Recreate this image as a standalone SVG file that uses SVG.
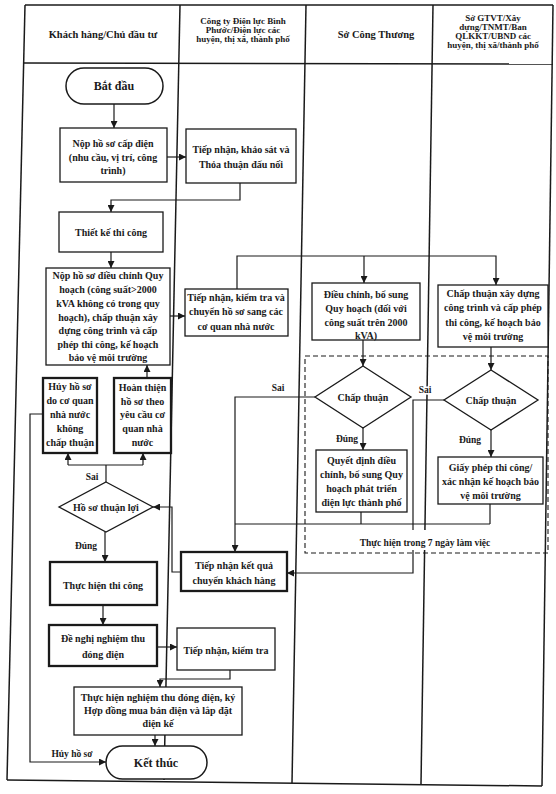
<svg xmlns="http://www.w3.org/2000/svg" width="556" height="794" viewBox="0 0 556 794">
<style>
  .tbl{fill:none;stroke:#1a1a1a;stroke-width:1.5}
  .box{fill:#fff;stroke:#1a1a1a;stroke-width:1.3}
  .thick{stroke-width:2.3}
  .term{fill:#fff;stroke:#1a1a1a;stroke-width:1.5}
  .ln{fill:none;stroke:#1a1a1a;stroke-width:1.2}
  .arr{marker-end:url(#ah)}
  .dash{fill:none;stroke:#1a1a1a;stroke-width:1.1;stroke-dasharray:5 3}
  .t{font-family:"Liberation Serif","Times New Roman",serif;font-weight:bold;font-size:10px;text-anchor:middle;fill:#1a1a1a}
  .h{font-size:9px}
  .hl{font-size:10.5px}
  .big{font-size:12px}
  .lbl{font-size:9.5px;paint-order:stroke;stroke:#fff;stroke-width:3px}
</style>
<defs>
  <marker id="ah" viewBox="0 0 10 10" refX="10" refY="5" markerWidth="7" markerHeight="7" markerUnits="userSpaceOnUse" orient="auto">
    <path d="M0,0 L10,5 L0,10 z" fill="#1a1a1a"/>
  </marker>
</defs>
<rect width="556" height="794" fill="#fff"/>

<g id="table">
  <line class="tbl" x1="25" y1="5" x2="553" y2="5"/>
  <line class="tbl" x1="24" y1="63" x2="553" y2="64"/>
  <line class="tbl" x1="25" y1="5" x2="7" y2="780"/>
  <line class="tbl" x1="180" y1="5" x2="164" y2="780"/>
  <line class="tbl" x1="306" y1="5" x2="292" y2="783"/>
  <line class="tbl" x1="433" y1="5" x2="421" y2="784"/>
  <line class="tbl" x1="553" y1="5" x2="542" y2="786"/>
  <line class="tbl" x1="7" y1="780" x2="542" y2="786"/>
  <text class="t hl" x="103" y="38">Khách hàng/Chủ đầu tư</text>
  <text class="t h" x="243" y="24">Công ty Điện lực Bình</text>
  <text class="t h" x="243" y="33">Phước/Điện lực các</text>
  <text class="t h" x="243" y="42">huyện, thị xã, thành phố</text>
  <text class="t hl" x="376" y="38">Sở Công Thương</text>
  <text class="t h" x="493" y="21">Sở GTVT/Xây</text>
  <text class="t h" x="493" y="30">dựng/TNMT/Ban</text>
  <text class="t h" x="493" y="39">QLKKT/UBND các</text>
  <text class="t h" x="493" y="48">huyện, thị xã/thành phố</text>
</g>

<g id="zone7">
  <rect class="dash" x="305" y="356" width="243" height="197"/>
</g>

<g id="connectors">
  <line class="ln arr" x1="114" y1="104" x2="114" y2="128"/>
  <line class="ln arr" x1="167" y1="157" x2="186" y2="157"/>
  <polyline class="ln arr" points="240,183 240,200 111,200 111,212"/>
  <line class="ln arr" x1="111" y1="252" x2="111" y2="268"/>
  <line class="ln arr" x1="170" y1="316" x2="185" y2="316"/>
  <polyline class="ln arr" points="237,289 237,256 496,256 496,285"/>
  <line class="ln arr" x1="364" y1="256" x2="364" y2="283"/>
  <line class="ln arr" x1="363" y1="340" x2="363" y2="366"/>
  <line class="ln arr" x1="491" y1="347" x2="491" y2="370"/>
  <line class="ln arr" x1="363" y1="428" x2="363" y2="450"/>
  <line class="ln arr" x1="491" y1="430" x2="491" y2="457"/>
  <polyline class="ln arr" points="315,397 235,397 235,552"/>
  <polyline class="ln" points="361,512 361,524"/>
  <polyline class="ln" points="490,504 490,524"/>
  <line class="ln" x1="235" y1="524" x2="490" y2="524"/>
  <polyline class="ln arr" points="444,400 413,400 413,573 287,573"/>
  <polyline class="ln arr" points="181,572 172,572 172,507 153,507"/>
  <line class="ln" x1="106" y1="482" x2="106" y2="465"/>
  <line class="ln" x1="68" y1="465" x2="143" y2="465"/>
  <line class="ln arr" x1="68" y1="465" x2="68" y2="453"/>
  <line class="ln arr" x1="143" y1="465" x2="143" y2="453"/>
  <line class="ln arr" x1="147" y1="378" x2="147" y2="365"/>
  <polyline class="ln arr" points="43,414 30,414 30,762 106,762"/>
  <line class="ln arr" x1="105" y1="532" x2="105" y2="562"/>
  <line class="ln arr" x1="103" y1="605" x2="103" y2="625"/>
  <line class="ln arr" x1="157" y1="647" x2="177" y2="647"/>
  <polyline class="ln arr" points="230,670 230,679 160,679 160,687"/>
  <line class="ln arr" x1="155" y1="735" x2="155" y2="746"/>
  <text class="t lbl" x="278" y="391">Sai</text>
  <text class="t lbl" x="425" y="393">Sai</text>
  <text class="t lbl" x="347" y="442">Đúng</text>
  <text class="t lbl" x="470" y="443">Đúng</text>
  <text class="t lbl" x="92" y="480">Sai</text>
  <text class="t lbl" x="86" y="549">Đúng</text>
  <text class="t lbl" x="72" y="757">Hủy hồ sơ</text>
</g>

<g id="zone7-label">
  <rect x="350" y="530" width="150" height="20" fill="#fff"/>
  <text class="t lbl" x="425" y="546">Thực hiện trong 7 ngày làm việc</text>
</g>

<g id="start">
  <rect class="term" x="66" y="68" width="97" height="36" rx="18"/>
  <text class="t big" x="114" y="90">Bắt đầu</text>
</g>
<g id="nop-ho-so">
  <rect class="box" x="60" y="128" width="107" height="54"/>
  <text class="t" x="113" y="146.5">Nộp hồ sơ cấp điện</text>
  <text class="t" x="113" y="160.5">(nhu cầu, vị trí, công</text>
  <text class="t" x="113" y="174">trình)</text>
</g>
<g id="tiep-nhan-khao-sat">
  <rect class="box" x="186" y="129" width="110" height="54"/>
  <text class="t" x="241" y="152.5">Tiếp nhận, khảo sát và</text>
  <text class="t" x="241" y="167.5">Thỏa thuận đấu nối</text>
</g>
<g id="thiet-ke">
  <rect class="box" x="59" y="212" width="104" height="40"/>
  <text class="t" x="111" y="236">Thiết kế thi công</text>
</g>
<g id="nop-dieu-chinh">
  <rect class="box" x="46" y="268" width="124" height="97"/>
  <text class="t" x="108" y="278.5">Nộp hồ sơ điều chỉnh Quy</text>
  <text class="t" x="108" y="292.5">hoạch (công suất&gt;2000</text>
  <text class="t" x="108" y="306.5">kVA không có trong quy</text>
  <text class="t" x="108" y="320.5">hoạch), chấp thuận xây</text>
  <text class="t" x="108" y="334">dựng công trình và cấp</text>
  <text class="t" x="108" y="347.5">phép thi công, kế hoạch</text>
  <text class="t" x="108" y="361">bảo vệ môi trường</text>
</g>
<g id="tiep-nhan-chuyen">
  <rect class="box" x="185" y="289" width="103" height="47"/>
  <text class="t" x="236" y="300.5">Tiếp nhận, kiểm tra và</text>
  <text class="t" x="236" y="315">chuyển hồ sơ sang các</text>
  <text class="t" x="236" y="329.5">cơ quan nhà nước</text>
</g>
<g id="dieu-chinh-qh">
  <rect class="box" x="312" y="283" width="108" height="57"/>
  <text class="t" x="366" y="297.5">Điều chỉnh, bổ sung</text>
  <text class="t" x="366" y="311.5">Quy hoạch (đối với</text>
  <text class="t" x="366" y="325.5">công suất trên 2000</text>
  <text class="t" x="366" y="338.5">kVA)</text>
</g>
<g id="chap-thuan-xd">
  <rect class="box" x="438" y="285" width="110" height="62"/>
  <text class="t" x="493" y="296.5">Chấp thuận xây dựng</text>
  <text class="t" x="493" y="310.5">công trình và cấp phép</text>
  <text class="t" x="493" y="325.5">thi công, kế hoạch bảo</text>
  <text class="t" x="493" y="339.5">vệ môi trường</text>
</g>
<g id="huy-ho-so">
  <rect class="box thick" x="43" y="378" width="54" height="75"/>
  <text class="t" x="70" y="390">Hủy hồ sơ</text>
  <text class="t" x="70" y="404">do cơ quan</text>
  <text class="t" x="70" y="418">nhà nước</text>
  <text class="t" x="70" y="432">không</text>
  <text class="t" x="70" y="446">chấp thuận</text>
</g>
<g id="hoan-thien">
  <rect class="box thick" x="114" y="378" width="57" height="75"/>
  <text class="t" x="142.5" y="391">Hoàn thiện</text>
  <text class="t" x="142.5" y="404.5">hồ sơ theo</text>
  <text class="t" x="142.5" y="418">yêu cầu cơ</text>
  <text class="t" x="142.5" y="432">quan nhà</text>
  <text class="t" x="142.5" y="445.5">nước</text>
</g>
<g id="ho-so-thuan-loi">
  <polygon class="box" points="106,482 153,507 106,532 59,507"/>
  <text class="t" x="106" y="510.5">Hồ sơ thuận lợi</text>
</g>
<g id="chap-thuan-1">
  <polygon class="box" points="363,366 411,397 363,428 315,397"/>
  <text class="t" x="363" y="400.5">Chấp thuận</text>
</g>
<g id="chap-thuan-2">
  <polygon class="box" points="491,370 538,400 491,430 444,400"/>
  <text class="t" x="491" y="403.5">Chấp thuận</text>
</g>
<g id="quyet-dinh">
  <rect class="box" x="316" y="450" width="91" height="62"/>
  <text class="t" x="361.5" y="463.5">Quyết định điều</text>
  <text class="t" x="361.5" y="478">chỉnh, bổ sung Quy</text>
  <text class="t" x="361.5" y="492">hoạch phát triển</text>
  <text class="t" x="361.5" y="506">điện lực thành phố</text>
</g>
<g id="giay-phep">
  <rect class="box" x="438" y="457" width="105" height="47"/>
  <text class="t" x="490.5" y="470.5">Giấy phép thi công/</text>
  <text class="t" x="490.5" y="484.5">xác nhận kế hoạch bảo</text>
  <text class="t" x="490.5" y="498.5">vệ môi trường</text>
</g>
<g id="tiep-nhan-ket-qua">
  <rect class="box thick" x="181" y="552" width="106" height="39"/>
  <text class="t" x="234" y="568.5">Tiếp nhận kết quả</text>
  <text class="t" x="234" y="584">chuyển khách hàng</text>
</g>
<g id="thuc-hien-thi-cong">
  <rect class="box thick" x="50" y="562" width="107" height="43"/>
  <text class="t" x="103" y="588.5">Thực hiện thi công</text>
</g>
<g id="de-nghi-nghiem-thu">
  <rect class="box thick" x="49" y="625" width="108" height="41"/>
  <text class="t" x="103" y="641.5">Đề nghị nghiệm thu</text>
  <text class="t" x="103" y="658">đóng điện</text>
</g>
<g id="tiep-nhan-kiem-tra">
  <rect class="box" x="177" y="628" width="98" height="42"/>
  <text class="t" x="226" y="653.5">Tiếp nhận, kiểm tra</text>
</g>
<g id="nghiem-thu-dong-dien">
  <rect class="box" x="74" y="687" width="168" height="48"/>
  <text class="t" x="158" y="700.5">Thực hiện nghiệm thu đóng điện, ký</text>
  <text class="t" x="158" y="713.5">Hợp đồng mua bán điện và lắp đặt</text>
  <text class="t" x="158" y="726.5">điện kế</text>
</g>
<g id="end">
  <rect class="term" x="106" y="746" width="101" height="33" rx="16.5"/>
  <text class="t big" x="156" y="767">Kết thúc</text>
</g>
</svg>
